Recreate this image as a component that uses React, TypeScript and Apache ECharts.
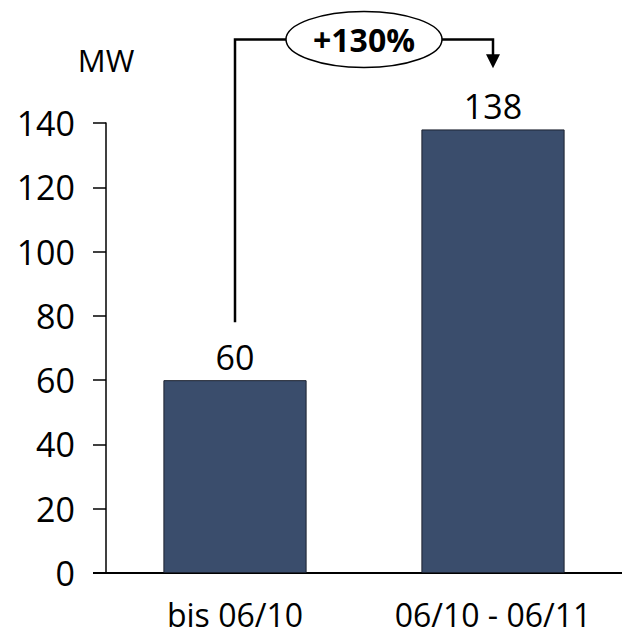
import React, { useEffect, useRef } from "react";
import * as echarts from "echarts";

// Installed capacity per period (MW)
const categories = ["bis 06/10", "06/10 - 06/11"];
const capacity = [60, 138];

// Value axis
const yMin = 0;
const yMax = 140;
const yInterval = 20;
const unitLabel = "MW";

// Growth bracket between the two bars (levels in axis units)
const growthLabel = "+130%";
const bracketStart = 78;
const bracketTop = 166;
const arrowTip = 157;

const FONT = "'Open Sans', 'Noto Sans', sans-serif";
const BAR_COLOR = "#3a4d6c";

export default function App() {
  const ref = useRef<HTMLDivElement>(null);

  useEffect(() => {
    if (!ref.current) return;
    const chart = echarts.init(ref.current, undefined, { renderer: "svg" });

    const gridLeft = 106;
    const gridTop = 123;
    const gridHeight = 450;
    const gridWidth = 523;

    chart.setOption({
      animation: false,
      backgroundColor: "#ffffff",
      textStyle: { fontFamily: FONT },
      grid: { left: gridLeft, top: gridTop, height: gridHeight, width: gridWidth, containLabel: false },
      xAxis: {
        type: "category",
        data: categories,
        axisLine: { show: true, lineStyle: { color: "#000", width: 2 } },
        axisTick: { show: false },
        axisLabel: {
          color: "#000",
          fontSize: 32,
          lineHeight: 30,
          fontFamily: FONT,
          margin: 26,
          interval: 0,
          hideOverlap: false,
        },
        splitLine: { show: false },
      },
      yAxis: {
        type: "value",
        min: yMin,
        max: yMax,
        interval: yInterval,
        name: unitLabel,
        nameLocation: "end",
        nameGap: 48,
        nameTextStyle: { color: "#000", fontSize: 31, fontFamily: FONT, align: "center" },
        axisLine: { show: true, lineStyle: { color: "#000", width: 1.5 } },
        axisTick: { show: true, inside: false, length: 13, lineStyle: { color: "#000", width: 1.5 } },
        axisLabel: { color: "#000", fontSize: 34, fontFamily: FONT, margin: 31 },
        splitLine: { show: false },
      },
      series: [
        {
          type: "bar",
          data: capacity,
          barWidth: "55.5%",
          itemStyle: { color: BAR_COLOR, borderColor: "#1c2230", borderWidth: 1 },
          label: {
            show: true,
            position: "top",
            distance: 6,
            color: "#000",
            fontSize: 34,
            fontFamily: FONT,
          },
        },
      ],
    });

    // Bracket geometry derived from the chart's own scales
    const toPx = (cat: number, v: number) =>
      chart.convertToPixel({ gridIndex: 0 }, [cat, v]) as number[];
    const [x0, yStart] = toPx(0, bracketStart);
    const [, yTop] = toPx(0, bracketTop);
    const [x1, yTip] = toPx(1, arrowTip);
    const [, yZero] = toPx(0, 0);
    const cx = (x0 + x1) / 2;
    const rx = 78;
    const ry = 28;
    const head = 14;

    chart.setOption({
      graphic: [
        {
          type: "line",
          shape: { x1: gridLeft - 13, y1: yZero, x2: gridLeft, y2: yZero },
          style: { stroke: "#000", lineWidth: 2 },
        },
        {
          type: "polyline",
          shape: { points: [[x0, yStart], [x0, yTop], [cx - rx, yTop]] },
          style: { stroke: "#000", lineWidth: 2.5, fill: "none" },
        },
        {
          type: "polyline",
          shape: { points: [[cx + rx, yTop], [x1, yTop], [x1, yTip - head + 1]] },
          style: { stroke: "#000", lineWidth: 2.5, fill: "none" },
        },
        {
          type: "polygon",
          shape: { points: [[x1 - 7, yTip - head], [x1 + 7, yTip - head], [x1, yTip]] },
          style: { fill: "#000" },
        },
        {
          type: "ellipse",
          shape: { cx, cy: yTop, rx, ry },
          style: { fill: "#fff", stroke: "#000", lineWidth: 1.5 },
        },
        {
          type: "text",
          x: cx,
          y: yTop,
          style: {
            text: growthLabel,
            fill: "#000",
            font: `bold 32px ${FONT}`,
            align: "center",
            verticalAlign: "middle",
          },
        },
      ],
    });

    return () => chart.dispose();
  }, []);

  return (
    <div
      ref={ref}
      style={{ position: "absolute", left: 0, top: 0, width: 622, height: 637, background: "#fff" }}
    />
  );
}
